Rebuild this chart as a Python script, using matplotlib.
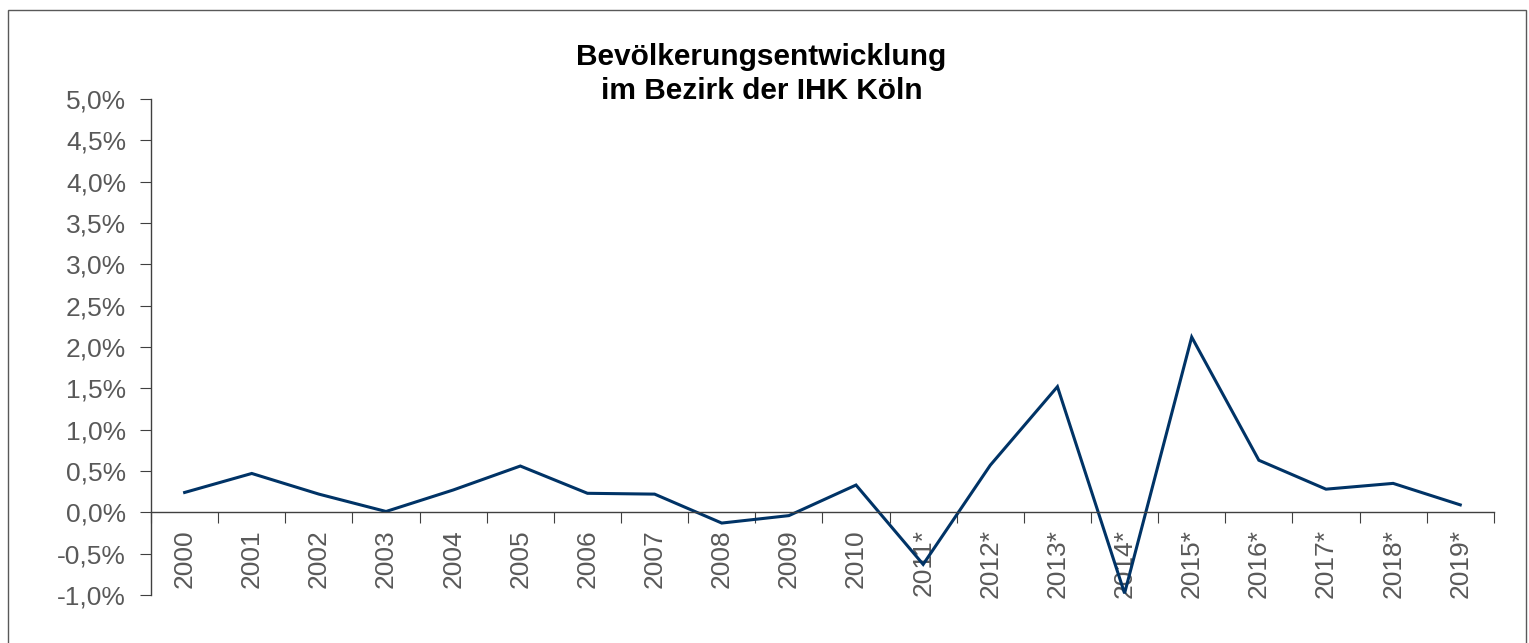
import numpy as np
import matplotlib.pyplot as plt
from matplotlib.patches import Rectangle
from matplotlib.ticker import FixedLocator

plt.rcParams['font.family'] = ['Liberation Sans', 'DejaVu Sans']

years = ['2000', '2001', '2002', '2003', '2004', '2005', '2006', '2007', '2008', '2009',
         '2010', '2011*', '2012*', '2013*', '2014*', '2015*', '2016*', '2017*', '2018*', '2019*']
growth = [0.24, 0.47, 0.22, 0.01, 0.27, 0.56, 0.23, 0.22, -0.13, -0.04,
          0.33, -0.63, 0.57, 1.52, -0.98, 2.12, 0.63, 0.28, 0.35, 0.09]
yticks = [-1.0, -0.5, 0.0, 0.5, 1.0, 1.5, 2.0, 2.5, 3.0, 3.5, 4.0, 4.5, 5.0]

fig = plt.figure(figsize=(15.29, 6.43), dpi=100)
ax = fig.add_axes([0.0988, 0.0747, 0.8782, 0.7713])

x = np.arange(len(years))
ax.plot(x, growth, color='#003366', lw=2.2, solid_joinstyle='miter')

ax.set_xlim(-0.5, len(years) - 0.5)
ax.set_ylim(-1.0, 5.0)

ax.spines['top'].set_visible(False)
ax.spines['right'].set_visible(False)
ax.spines['bottom'].set_position(('data', 0))
for s in ['left', 'bottom']:
    ax.spines[s].set_color('#404040')
    ax.spines[s].set_linewidth(1.0)

# major ticks at category boundaries, labels at the centers
ax.xaxis.set_major_locator(FixedLocator(np.arange(len(years) + 1) - 0.5))
ax.xaxis.set_major_formatter(plt.NullFormatter())
ax.set_xticks(x, minor=True)
ax.set_xticklabels(years, minor=True, rotation=90, fontsize=19, color='#595959')
ax.tick_params(axis='x', which='major', direction='out', length=8, color='#404040')
ax.tick_params(axis='x', which='minor', length=0, pad=12)

ax.set_yticks(yticks)
ax.set_yticklabels([f"{v:.1f}%".replace('.', ',') for v in yticks], fontsize=19, color='#595959')
ax.tick_params(axis='y', direction='out', length=8, color='#404040', pad=10)

fig.text(0.498, 0.885, 'Bevölkerungsentwicklung\nim Bezirk der IHK Köln', ha='center', va='center',
         fontsize=21.5, fontweight='bold', color='black', linespacing=1.3)

fig.patches.append(Rectangle((0.005, -0.01), 0.993, 0.995, transform=fig.transFigure,
                             fill=False, edgecolor='#595959', lw=1.0))

fig.savefig('out.png', dpi=100)
